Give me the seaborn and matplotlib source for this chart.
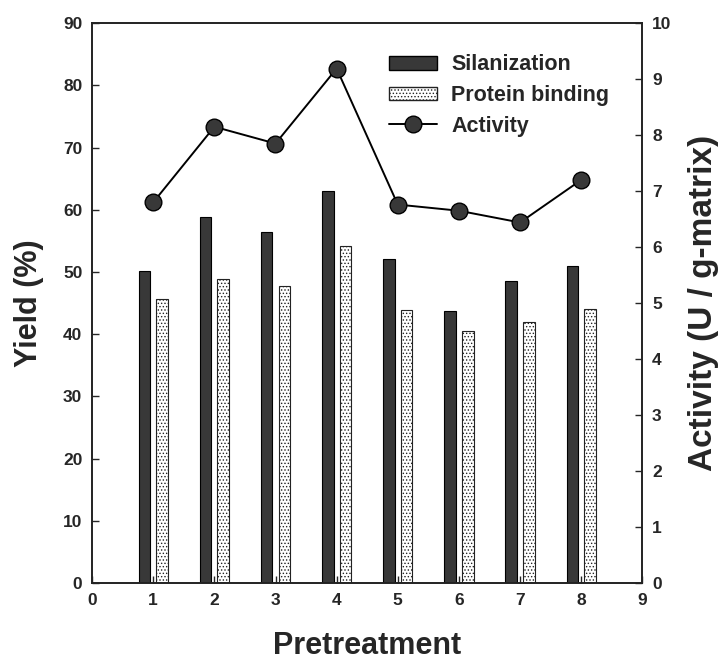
import numpy as np
import pandas as pd
import matplotlib
matplotlib.use("Agg")
import matplotlib.pyplot as plt
import seaborn as sns
from matplotlib.patches import Patch
from matplotlib.lines import Line2D

pretreatment = [1, 2, 3, 4, 5, 6, 7, 8]
silanization = [50.1, 58.8, 56.4, 63.1, 52.1, 43.8, 48.6, 51.0]
protein_binding = [45.6, 48.8, 47.7, 54.2, 43.9, 40.5, 41.9, 44.1]
activity = [6.80, 8.15, 7.85, 9.19, 6.76, 6.65, 6.44, 7.20]
x_ticks = [0, 1, 2, 3, 4, 5, 6, 7, 8, 9]
yield_ticks = [0, 10, 20, 30, 40, 50, 60, 70, 80, 90]
activity_ticks = [0, 1, 2, 3, 4, 5, 6, 7, 8, 9, 10]

sns.set_theme(style="ticks")
plt.rcParams['font.family'] = ['Liberation Sans', 'DejaVu Sans']
plt.rcParams['font.weight'] = 'bold'
plt.rcParams['hatch.linewidth'] = 0.6

df = pd.DataFrame({
    'Pretreatment': pretreatment * 2,
    'Yield': silanization + protein_binding,
    'Series': ['Silanization'] * len(pretreatment) + ['Protein binding'] * len(pretreatment),
})

fig = plt.figure(figsize=(7.25, 6.63), dpi=100)
ax = fig.add_axes([0.127, 0.1207, 0.759, 0.8443])

dark = '#383838'
sns.barplot(data=df, x='Pretreatment', y='Yield', hue='Series', native_scale=True,
            palette={'Silanization': dark, 'Protein binding': 'white'},
            width=0.58, gap=0.35, dodge=True, edgecolor='black', linewidth=0.8,
            legend=False, ax=ax)
for bar in ax.containers[1]:
    bar.set_hatch('.....')
    bar.set_edgecolor('#222222')

ax.set_xlim(0, 9)
ax.set_ylim(0, 90)
ax.set_xticks(x_ticks)
ax.set_yticks(yield_ticks)
ax.set_xlabel('Pretreatment', fontsize=22, fontweight='bold', labelpad=17)
ax.set_ylabel('Yield (%)', fontsize=22, fontweight='bold', labelpad=14)

ax2 = ax.twinx()
sns.lineplot(x=pretreatment, y=activity, ax=ax2, color='black', linewidth=1.4,
             marker='o', markersize=12, markerfacecolor=dark, markeredgecolor='black',
             markeredgewidth=1.0)
ax2.set_ylim(0, 10)
ax2.set_yticks(activity_ticks)
ax2.set_ylabel('Activity (U / g-matrix)', fontsize=24, fontweight='bold', labelpad=12)

for a in (ax, ax2):
    a.tick_params(direction='in', length=5, width=1.0, labelsize=12.5, pad=7)
    for lbl in a.get_xticklabels() + a.get_yticklabels():
        lbl.set_fontweight('bold')
    for s in a.spines.values():
        s.set_linewidth(1.2)
        s.set_color('#222222')

handles = [
    Patch(facecolor=dark, edgecolor='black', label='Silanization'),
    Patch(facecolor='white', edgecolor='#222222', hatch='.....', label='Protein binding'),
    Line2D([0], [0], color='black', linewidth=1.4, marker='o', markersize=12,
           markerfacecolor=dark, markeredgecolor='black', label='Activity'),
]
leg = ax2.legend(handles=handles, loc='upper left', bbox_to_anchor=(0.505, 0.979),
                 frameon=False, handlelength=2.23, handleheight=0.6, handletextpad=0.65,
                 labelspacing=0.45, prop={'weight': 'bold', 'size': 15.5})

fig.savefig('out.png', dpi=100)
